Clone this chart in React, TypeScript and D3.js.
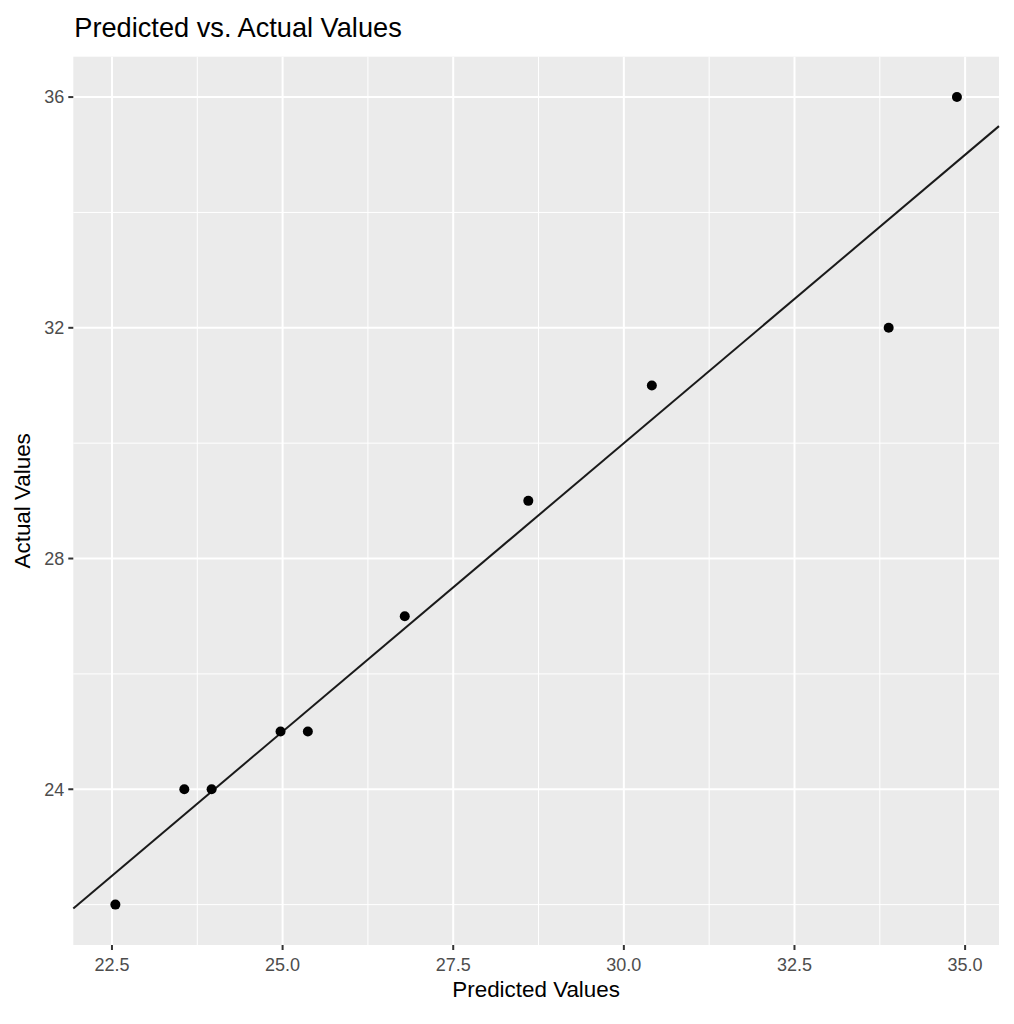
import React from "react";
import * as d3 from "d3";

const predicted = [22.55, 23.56, 23.96, 24.97, 25.37, 26.79, 28.6, 30.41, 33.88, 34.88];
const actual = [22, 24, 24, 25, 25, 27, 29, 31, 32, 36];
const xTicks = [22.5, 25.0, 27.5, 30.0, 32.5, 35.0];
const yTicks = [24, 28, 32, 36];
const xMinor = [23.75, 26.25, 28.75, 31.25, 33.75];
const yMinor = [22, 26, 30, 34];
const title = "Predicted vs. Actual Values";
const xLabel = "Predicted Values";
const yLabel = "Actual Values";

const W = 1014;
const H = 1024;
const left = 73.3;
const right = 999;
const top = 56.7;
const bottom = 945;

function expand(v: number[]): [number, number] {
  const [a, b] = d3.extent(v) as [number, number];
  const e = (b - a) * 0.05;
  return [a - e, b + e];
}

export default function App() {
  const x = d3.scaleLinear().domain(expand(predicted)).range([left, right]);
  const y = d3.scaleLinear().domain(expand(actual)).range([bottom, top]);
  const [x0, x1] = x.domain();
  const lo = Math.max(x0, y.domain()[0]);
  const hi = Math.min(x1, y.domain()[1]);
  const linePath = d3.line<number>()((
    [lo, hi].map((v) => [x(v), y(v)]) as unknown) as any);
  const font = "'Liberation Sans', Arial, Helvetica, sans-serif";
  return (
    <svg
      width={W}
      height={H}
      style={{ position: "absolute", left: 0, top: 0, background: "#fff" }}
      fontFamily={font}
    >
      <rect x={left} y={top} width={right - left} height={bottom - top} fill="#EBEBEB" />
      {xMinor.map((t) => (
        <line key={"xm" + t} x1={x(t)} x2={x(t)} y1={top} y2={bottom} stroke="#fff" strokeWidth={1} />
      ))}
      {yMinor.map((t) => (
        <line key={"ym" + t} y1={y(t)} y2={y(t)} x1={left} x2={right} stroke="#fff" strokeWidth={1} />
      ))}
      {xTicks.map((t) => (
        <line key={"xM" + t} x1={x(t)} x2={x(t)} y1={top} y2={bottom} stroke="#fff" strokeWidth={2} />
      ))}
      {yTicks.map((t) => (
        <line key={"yM" + t} y1={y(t)} y2={y(t)} x1={left} x2={right} stroke="#fff" strokeWidth={2} />
      ))}
      <path d={linePath || ""} stroke="#1a1a1a" strokeWidth={2} fill="none" />
      {predicted.map((p, i) => (
        <circle key={i} cx={x(p)} cy={y(actual[i])} r={5} fill="#000" />
      ))}
      {xTicks.map((t) => (
        <g key={"xt" + t}>
          <line x1={x(t)} x2={x(t)} y1={bottom} y2={bottom + 5} stroke="#333" strokeWidth={2} />
          <text x={x(t)} y={971} textAnchor="middle" fontSize={18} fill="#4D4D4D">
            {d3.format(".1f")(t)}
          </text>
        </g>
      ))}
      {yTicks.map((t) => (
        <g key={"yt" + t}>
          <line x1={left - 5} x2={left} y1={y(t)} y2={y(t)} stroke="#333" strokeWidth={2} />
          <text x={left - 9} y={y(t)} dy="0.35em" textAnchor="end" fontSize={18} fill="#4D4D4D">
            {String(t)}
          </text>
        </g>
      ))}
      <text x={(left + right) / 2} y={997} textAnchor="middle" fontSize={22.4} fill="#000">
        {xLabel}
      </text>
      <text
        transform={`translate(30,${(top + bottom) / 2}) rotate(-90)`}
        textAnchor="middle"
        fontSize={22.4}
        fill="#000"
      >
        {yLabel}
      </text>
      <text x={left + 1} y={37} fontSize={27.2} fill="#000">
        {title}
      </text>
    </svg>
  );
}
